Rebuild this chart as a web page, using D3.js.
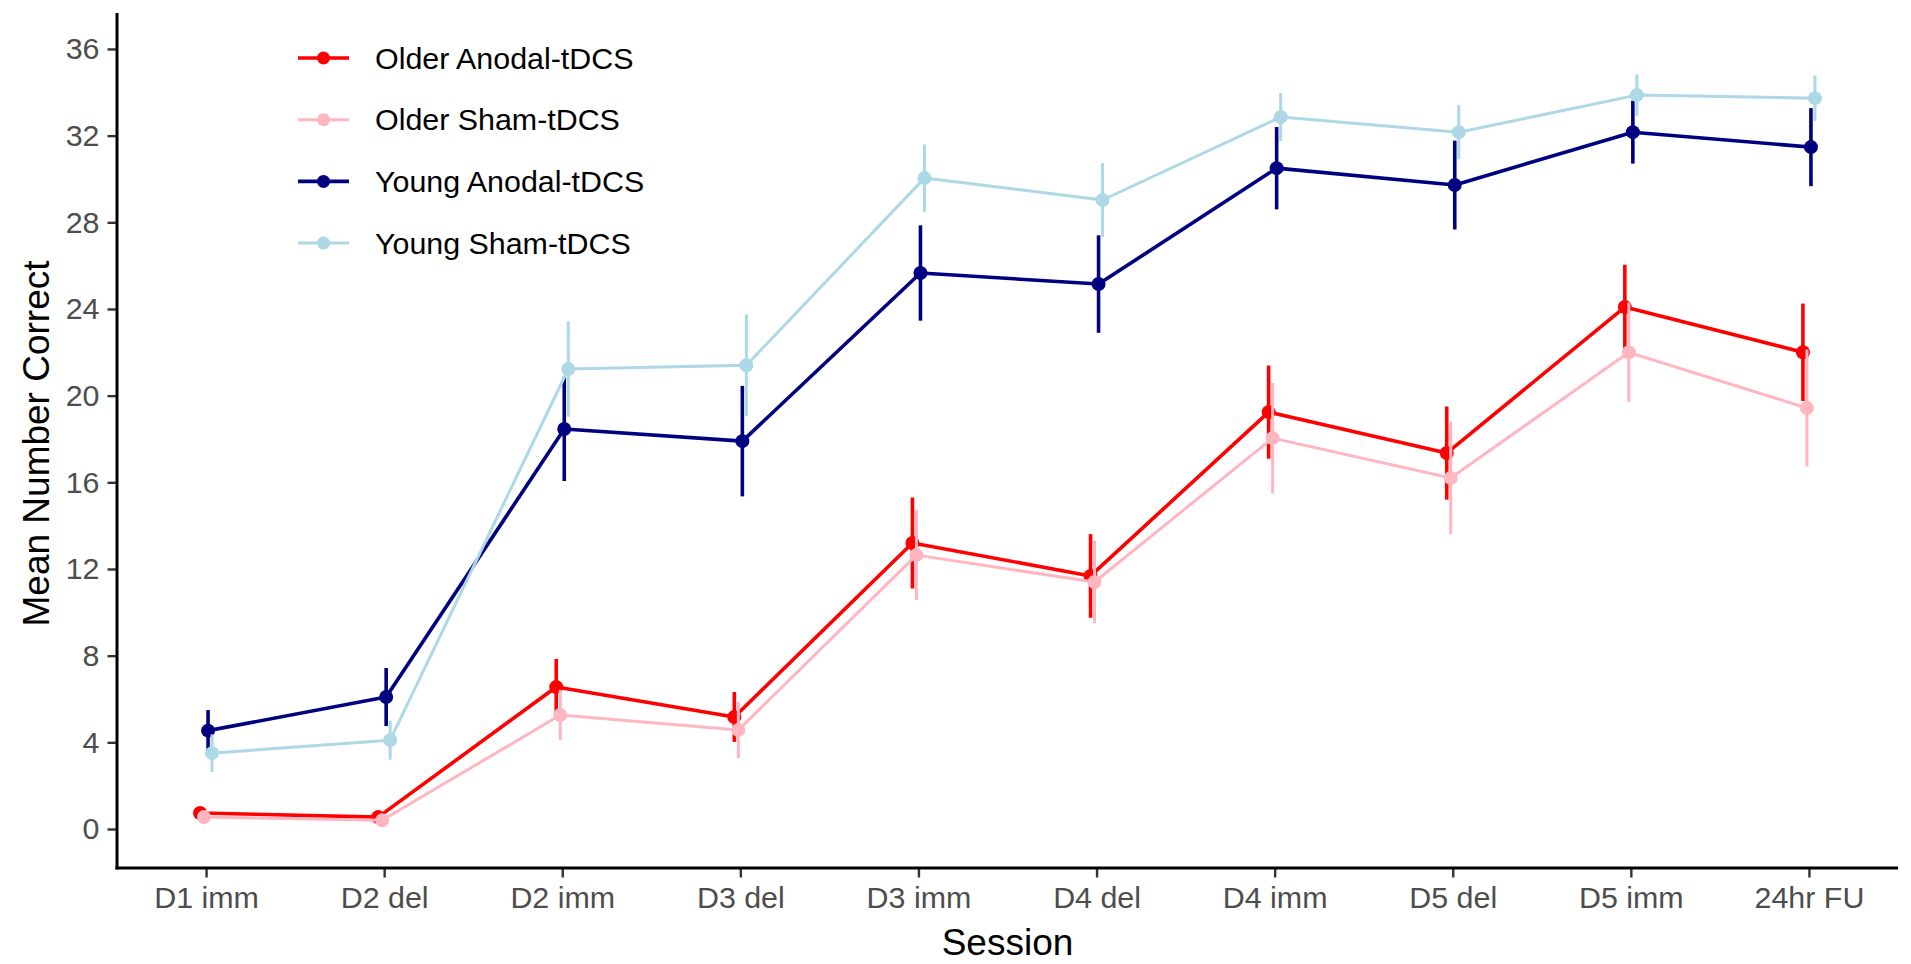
<!DOCTYPE html>
<html>
<head>
<meta charset="utf-8">
<script src="https://cdn.jsdelivr.net/npm/d3@7/dist/d3.min.js"></script>
<style>
  html, body { margin: 0; padding: 0; background: #fff; }
  svg { display: block; font-family: "Liberation Sans", Arial, Helvetica, sans-serif; }
</style>
</head>
<body>
<svg id="chart" width="1911" height="964"></svg>
<script>
// ---- data ----
const sessions = ["D1 imm", "D2 del", "D2 imm", "D3 del", "D3 imm", "D4 del", "D4 imm", "D5 del", "D5 imm", "24hr FU"];
const seriesNames = ["Older Anodal-tDCS", "Older Sham-tDCS", "Young Anodal-tDCS", "Young Sham-tDCS"];
const seriesColors = ["#ff0000", "#ffb6c1", "#000080", "#add8e6"];
const olderAnodalMean = [0.74, 0.55, 6.55, 5.17, 13.2, 11.68, 19.24, 17.35, 24.09, 22.0];
const olderAnodalSE   = [0.2, 0.2, 1.3, 1.15, 2.1, 1.93, 2.15, 2.15, 1.95, 2.25];
const olderShamMean   = [0.55, 0.4, 5.26, 4.57, 12.64, 11.4, 18.04, 16.2, 22.0, 19.43];
const olderShamSE     = [0.2, 0.2, 1.16, 1.3, 2.07, 1.9, 2.55, 2.6, 2.3, 2.7];
const youngAnodalMean = [4.54, 6.09, 18.46, 17.9, 25.66, 25.15, 30.5, 29.72, 32.16, 31.47];
const youngAnodalSE   = [0.95, 1.34, 2.4, 2.55, 2.2, 2.25, 1.9, 2.05, 1.45, 1.8];
const youngShamMean   = [3.5, 4.1, 21.23, 21.4, 30.04, 29.03, 32.86, 32.16, 33.87, 33.73];
const youngShamSE     = [0.87, 0.9, 2.2, 2.35, 1.55, 1.7, 1.1, 1.25, 0.95, 1.05];
const yTicks = [0, 4, 8, 12, 16, 20, 24, 28, 32, 36];
const yDomain = [-1.8, 37.66];
const dodgeWidth = 0.09;

(function () {
const means = [olderAnodalMean, olderShamMean, youngAnodalMean, youngShamMean];
const ses = [olderAnodalSE, olderShamSE, youngAnodalSE, youngShamSE];
const series = seriesNames.map((name, i) => ({
  name, color: seriesColors[i], idx: i,
  values: sessions.map((s, j) => ({ s, m: means[i][j], se: ses[i][j] }))
}));

// ---- layout ----
const svg = d3.select("#chart");
const pL = 117, pR = 1898, pT = 13, pB = 868;

const x = d3.scalePoint().domain(sessions).range([pL, pR]).padding(0.5);
const y = d3.scaleLinear().domain(yDomain).range([pB, pT]);
const step = x.step();
const dx = i => (i - (seriesNames.length - 1) / 2) * (dodgeWidth * step) / seriesNames.length;

// ---- axes ----
const tickColor = "#333333";
const labColor = "#4d4d4d";

const gx = svg.append("g").attr("transform", `translate(0,${pB})`)
  .call(d3.axisBottom(x).tickSize(9.5).tickPadding(9));
gx.select(".domain").remove();
gx.selectAll(".tick line").attr("stroke", tickColor).attr("stroke-width", 2.4);
gx.selectAll(".tick text").attr("fill", labColor).attr("font-size", 30.4)
  .attr("font-family", "Liberation Sans, Arial, sans-serif");

const gy = svg.append("g").attr("transform", `translate(${pL},0)`)
  .call(d3.axisLeft(y).tickValues(yTicks).tickSize(9.5).tickPadding(8));
gy.select(".domain").remove();
gy.selectAll(".tick line").attr("stroke", tickColor).attr("stroke-width", 2.4);
gy.selectAll(".tick text").attr("fill", labColor).attr("font-size", 30.4)
  .attr("font-family", "Liberation Sans, Arial, sans-serif");

// axis lines
svg.append("line").attr("x1", pL).attr("x2", pL).attr("y1", pT).attr("y2", pB + 1.5)
  .attr("stroke", "#000").attr("stroke-width", 3);
svg.append("line").attr("x1", pL - 1.5).attr("x2", pR).attr("y1", pB).attr("y2", pB)
  .attr("stroke", "#000").attr("stroke-width", 3);

// axis titles
svg.append("text").attr("x", (pL + pR) / 2).attr("y", 955)
  .attr("text-anchor", "middle").attr("font-size", 37).attr("fill", "#000").text("Session");
svg.append("text").attr("transform", `translate(49,${(pT + pB) / 2 + 3}) rotate(-90)`)
  .attr("text-anchor", "middle").attr("font-size", 37).attr("fill", "#000").text("Mean Number Correct");

// ---- marks ----
const line = d3.line().x(d => x(d.s)).y(d => y(d.m));
const widthFor = i => (i % 2 === 0 ? 3.6 : 3.0);

const gs = svg.append("g").selectAll("g").data(series).join("g")
  .attr("transform", d => `translate(${dx(d.idx)},0)`);

gs.append("path").attr("fill", "none")
  .attr("stroke", d => d.color).attr("stroke-width", d => widthFor(d.idx))
  .attr("stroke-linejoin", "round")
  .attr("d", d => line(d.values));

gs.selectAll("line.err").data(d => d.values.map(v => ({ ...v, c: d.color, w: widthFor(d.idx) })))
  .join("line").attr("class", "err")
  .attr("x1", v => x(v.s)).attr("x2", v => x(v.s))
  .attr("y1", v => y(v.m - v.se)).attr("y2", v => y(v.m + v.se))
  .attr("stroke", v => v.c).attr("stroke-width", v => v.w);

gs.selectAll("circle").data(d => d.values.map(v => ({ ...v, c: d.color })))
  .join("circle")
  .attr("cx", v => x(v.s)).attr("cy", v => y(v.m)).attr("r", 7)
  .attr("fill", v => v.c);

// ---- legend ----
const lg = svg.append("g").selectAll("g").data(series).join("g")
  .attr("transform", (d, i) => `translate(298,${58 + i * 61.7})`);
lg.append("line").attr("x1", 0).attr("x2", 51).attr("y1", 0).attr("y2", 0)
  .attr("stroke", d => d.color).attr("stroke-width", d => widthFor(d.idx));
lg.append("circle").attr("cx", 25.5).attr("cy", 0).attr("r", 6.5).attr("fill", d => d.color);
lg.append("text").attr("x", 77).attr("y", 0).attr("dy", "0.35em")
  .attr("font-size", 30.4).attr("fill", "#000").text(d => d.name);
})();
</script>
</body>
</html>
